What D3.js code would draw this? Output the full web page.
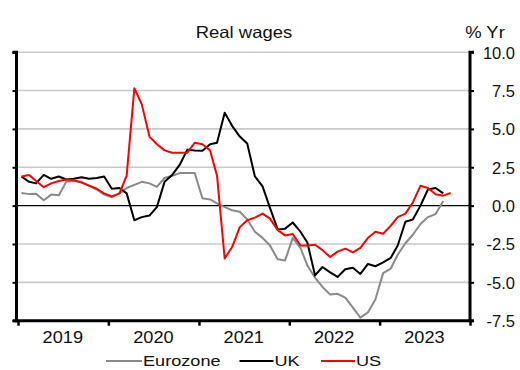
<!DOCTYPE html>
<html><head><meta charset="utf-8">
<script src="https://cdn.jsdelivr.net/npm/d3@7"></script>
<style>
html,body{margin:0;padding:0;background:#fff;}
svg{display:block;font-family:"Liberation Sans",Arial,sans-serif;}
</style></head>
<body><svg id="c" width="520" height="370"></svg>
<script>
// Monthly data, Jan 2019 onwards
const title = "Real wages";
const unitLabel = "% Yr";
const yTicks = [-7.5, -5.0, -2.5, 0.0, 2.5, 5.0, 7.5, 10.0];
const yearLabels = ["2019", "2020", "2021", "2022", "2023"];
const seriesNames = ["Eurozone", "UK", "US"];
const eurozone = [0.82,0.75,0.78,0.35,0.72,0.68,1.55,1.6,1.55,1.3,1.05,0.72,
  0.55,0.8,1.15,1.35,1.55,1.45,1.22,1.8,1.95,2.12,2.13,2.13,
  0.48,0.4,0.15,-0.1,-0.3,-0.4,-0.9,-1.7,-2.1,-2.6,-3.5,-3.57,
  -2.1,-2.75,-3.9,-4.7,-5.3,-5.8,-5.75,-6.0,-6.65,-7.3,-6.95,-6.1,
  -4.4,-4.1,-3.2,-2.45,-1.9,-1.2,-0.75,-0.55,0.3];
const uk = [1.9,1.55,1.45,2.0,1.75,1.9,1.7,1.75,1.85,1.75,1.8,1.9,
  1.1,1.15,0.8,-0.95,-0.75,-0.65,-0.1,1.55,2.0,2.65,3.65,3.6,
  3.57,4.0,4.1,6.05,5.2,4.5,4.05,1.9,1.25,-0.15,-1.55,-1.5,
  -1.1,-1.7,-2.4,-4.55,-4.0,-4.35,-4.65,-4.15,-4.05,-4.45,-3.8,-3.95,
  -3.7,-3.4,-2.6,-1.05,-0.9,0.0,1.05,1.15,0.8];
const us = [1.9,2.0,1.6,1.2,1.45,1.6,1.7,1.65,1.5,1.3,1.1,0.8,
  0.6,0.8,1.95,7.65,6.6,4.5,4.0,3.6,3.45,3.45,3.45,4.1,
  4.0,3.6,1.95,-3.45,-2.7,-1.4,-0.95,-0.78,-0.52,-0.85,-1.6,-1.94,
  -1.85,-2.6,-2.6,-2.55,-2.9,-3.35,-3.0,-2.8,-3.05,-2.75,-2.1,-1.7,
  -1.83,-1.3,-0.75,-0.52,0.2,1.3,1.15,0.74,0.65,0.82];
const colors = ["#8a8a8a", "#000000", "#ff0000"];

const svg = d3.select("#c");
const L = 16.5, R = 470, T = 52.2, B = 320.7;
const x = d3.scaleTime().domain([new Date(2019,0,1), new Date(2024,0,1)]).range([L+1.5, R]);
const y = d3.scaleLinear().domain([-7.5, 10]).range([B, T]);
const mid = i => new Date(2019, i, 15);

// gridlines
svg.append("g").selectAll("line").data(yTicks).join("line")
  .attr("x1", L).attr("x2", R).attr("y1", d => y(d)).attr("y2", d => y(d))
  .attr("stroke", d => d === 0 ? "#000" : "#c9c9c9")
  .attr("stroke-width", d => d === 0 ? 1.4 : 1.6);

// series
const series = [eurozone, uk, us];
const line = d3.line().x((d,i) => x(mid(i))).y(d => y(d));
svg.append("g").selectAll("path").data(series).join("path")
  .attr("d", line).attr("fill", "none")
  .attr("stroke", (d,i) => colors[i]).attr("stroke-width", 2)
  .attr("stroke-linejoin", "round");

// left axis (ticks only)
const la = svg.append("g").attr("transform", `translate(${L},0)`)
  .call(d3.axisLeft(y).tickValues(yTicks).tickSize(4).tickFormat(""));
la.select(".domain").attr("stroke-width", 3).attr("d", `M-4,${T}H0V${B}H-4`);
la.selectAll(".tick line").attr("stroke-width", 2);

// right axis
const ra = svg.append("g").attr("transform", `translate(${R},0)`)
  .call(d3.axisRight(y).tickValues(yTicks).tickSize(4).tickFormat(d3.format(".1f")));
ra.select(".domain").attr("stroke-width", 3).attr("d", `M4,${T}H0V${B}H4`);
ra.selectAll(".tick line").attr("stroke-width", 2);
ra.selectAll(".tick text").attr("x", 45).attr("text-anchor", "end")
  .attr("font-size", 16.5).attr("fill", "#111").attr("dy", "0.36em")
  .text(d => d3.format(".1f")(d).replace("−","-"));

// bottom axis ticks
const ba = svg.append("g").attr("transform", `translate(0,${B})`)
  .call(d3.axisBottom(x).ticks(d3.timeYear.every(1)).tickSize(5).tickFormat(""));
ba.select(".domain").attr("stroke-width", 3).attr("d", `M${L-1.5},0H${R+1.5}`);
ba.selectAll(".tick line").attr("stroke-width", 2.5);
// year labels at mid-year
svg.append("g").selectAll("text").data(yearLabels).join("text")
  .attr("x", d => x(new Date(+d, 6, 1)))
  .attr("y", 343.5).attr("text-anchor", "middle")
  .attr("font-size", 16.5).attr("fill", "#111")
  .attr("transform", d => { const cx = x(new Date(+d,6,1)); return `translate(${cx},0) scale(1.1,1) translate(${-cx},0)`; })
  .text(d => d);

// title & unit
function stretched(txt, cx, by, fs) {
  svg.append("text").attr("x", cx).attr("y", by).attr("text-anchor", "middle")
    .attr("font-size", fs).attr("fill", "#111")
    .attr("transform", `translate(${cx},0) scale(1.12,1) translate(${-cx},0)`)
    .text(txt);
}
stretched(title, 244, 37.7, 16.5);
stretched(unitLabel, 485, 37.7, 16.5);

// legend
const legX = [106, 239.5, 321];
const legLen = [36, 34, 34];
const lg = svg.append("g");
seriesNames.forEach((n,i) => {
  lg.append("line").attr("x1", legX[i]).attr("x2", legX[i]+legLen[i])
    .attr("y1", 361).attr("y2", 361).attr("stroke", colors[i]).attr("stroke-width", 2);
  const tx = legX[i] + legLen[i] + 1;
  lg.append("text").attr("x", tx).attr("y", 366).attr("font-size", 15.5)
    .attr("fill", "#111")
    .attr("transform", `translate(${tx},0) scale(1.17,1) translate(${-tx},0)`)
    .text(n);
});
</script></body></html>
